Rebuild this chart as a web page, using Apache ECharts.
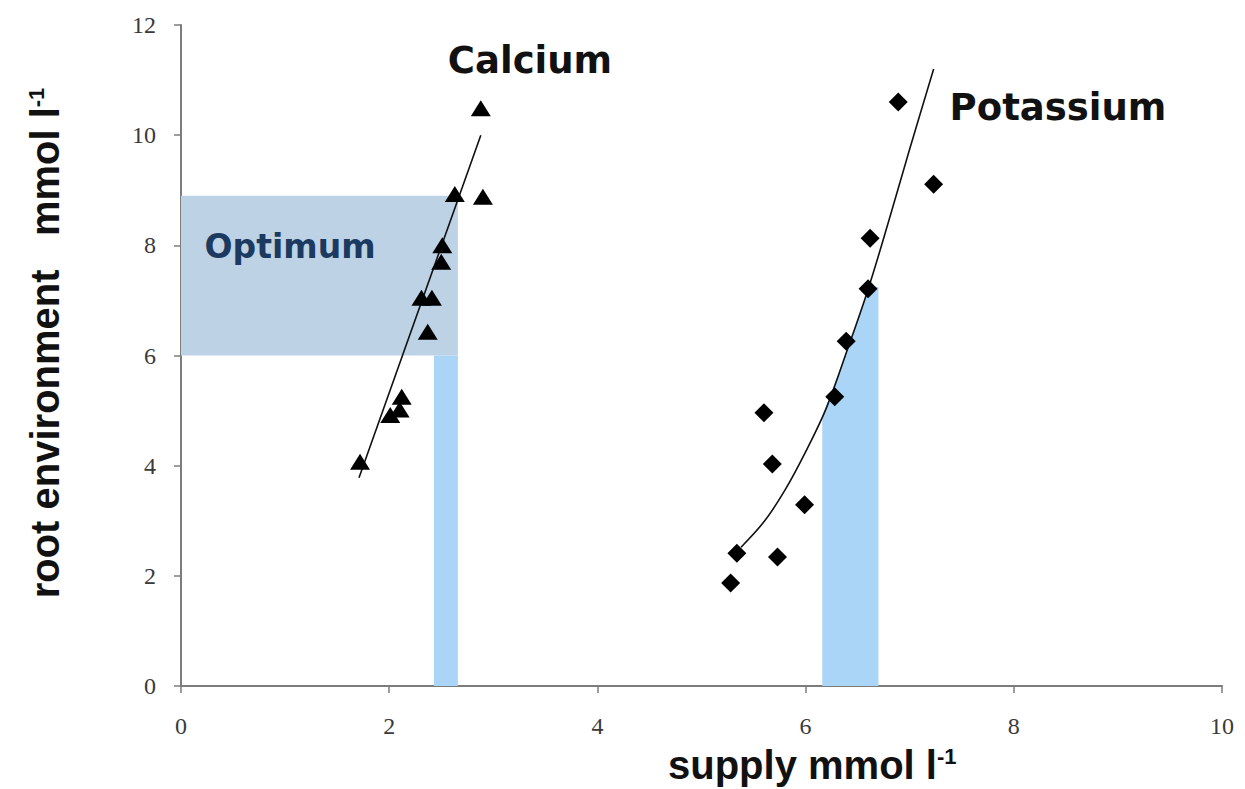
<!DOCTYPE html>
<html>
<head>
<meta charset="utf-8">
<title>Root environment vs supply</title>
<script src="https://cdn.jsdelivr.net/npm/echarts@6/dist/echarts.min.js"></script>
<style>
  html, body { margin: 0; padding: 0; background: #ffffff; }
  #chart { width: 1245px; height: 789px; }
</style>
</head>
<body>
<div id="chart"></div>
<script>
// Axis ticks
const xTicks = [0, 2, 4, 6, 8, 10];
const yTicks = [0, 2, 4, 6, 8, 10, 12];

// Calcium measurements (supply vs root environment, mmol/l)
const calciumSupply = [1.72, 2.01, 2.10, 2.12, 2.37, 2.31, 2.41, 2.50, 2.51, 2.63, 2.90, 2.88];
const calciumRoot   = [4.07, 4.92, 5.02, 5.25, 6.43, 7.05, 7.05, 7.70, 8.00, 8.93, 8.88, 10.49];

// Calcium linear fit end points
const calciumFitSupply = [1.71, 2.88];
const calciumFitRoot   = [3.78, 10.0];

// Potassium measurements
const potassiumSupply = [5.28, 5.34, 5.60, 5.68, 5.73, 5.99, 6.28, 6.39, 6.60, 6.62, 6.89, 7.23];
const potassiumRoot   = [1.87, 2.41, 4.96, 4.03, 2.34, 3.29, 5.25, 6.26, 7.21, 8.13, 10.60, 9.11];

// Potassium fitted curve
const potassiumFitSupply = [5.38, 5.60, 5.80, 6.00, 6.20, 6.40, 6.60, 6.80, 7.00, 7.23];
const potassiumFitRoot   = [2.52, 2.98, 3.55, 4.25, 5.05, 6.10, 7.20, 8.45, 9.75, 11.20];

// Optimum root-environment range and the supply windows that reach it
const optimumRoot = [6, 8.9];
const calciumOptimumSupply = [2.43, 2.66];
const potassiumOptimumSupply = [6.16, 6.40, 6.60, 6.70];
const potassiumOptimumRoot   = [4.90, 6.10, 7.20, 7.25];

const zip = (xs, ys) => xs.map((x, i) => [x, ys[i]]);

const chart = echarts.init(document.getElementById('chart'), null, { renderer: 'svg' });

const bandColor = '#bdd2e5';
const barColor = '#abd5f6';
const tickFont = { fontFamily: 'Liberation Serif', fontSize: 24, color: '#3a3a3a' };

chart.setOption({
  animation: false,
  backgroundColor: '#ffffff',
  grid: { left: 181, right: 23, top: 25, bottom: 103, containLabel: false },
  xAxis: {
    type: 'value',
    min: xTicks[0],
    max: xTicks[xTicks.length - 1],
    interval: xTicks[1] - xTicks[0],
    splitLine: { show: false },
    axisLine: { show: true, onZero: false, lineStyle: { color: '#7c7c7c', width: 2 } },
    axisTick: { show: true, length: 7, lineStyle: { color: '#7c7c7c', width: 1.5 } },
    axisLabel: Object.assign({ margin: 28 }, tickFont)
  },
  yAxis: {
    type: 'value',
    min: yTicks[0],
    max: yTicks[yTicks.length - 1],
    interval: yTicks[1] - yTicks[0],
    splitLine: { show: false },
    axisLine: { show: true, onZero: false, lineStyle: { color: '#7c7c7c', width: 2 } },
    axisTick: { show: true, length: 7, lineStyle: { color: '#7c7c7c', width: 1.5 } },
    axisLabel: Object.assign({ margin: 25 }, tickFont)
  },
  series: [
    {
      // Potassium supply window: area under the fitted curve
      name: 'Potassium optimum',
      type: 'line',
      z: 1,
      silent: true,
      symbol: 'none',
      lineStyle: { width: 0 },
      areaStyle: { color: barColor, opacity: 1 },
      data: zip(potassiumOptimumSupply, potassiumOptimumRoot),
      markArea: {
        silent: true,
        data: [
          [
            { coord: [0, optimumRoot[0]], itemStyle: { color: bandColor } },
            { coord: [calciumOptimumSupply[1], optimumRoot[1]] }
          ],
          [
            { coord: [calciumOptimumSupply[0], 0], itemStyle: { color: barColor } },
            { coord: [calciumOptimumSupply[1], optimumRoot[0]] }
          ]
        ]
      }
    },
    {
      name: 'Calcium fit',
      type: 'line',
      z: 3,
      symbol: 'none',
      lineStyle: { color: '#111', width: 1.6 },
      data: zip(calciumFitSupply, calciumFitRoot)
    },
    {
      name: 'Potassium fit',
      type: 'line',
      z: 3,
      symbol: 'none',
      smooth: 0.35,
      lineStyle: { color: '#111', width: 1.6 },
      data: zip(potassiumFitSupply, potassiumFitRoot)
    },
    {
      name: 'Calcium',
      type: 'scatter',
      z: 4,
      symbol: 'triangle',
      symbolSize: [20, 16],
      itemStyle: { color: '#000', opacity: 1 },
      data: zip(calciumSupply, calciumRoot)
    },
    {
      name: 'Potassium',
      type: 'scatter',
      z: 4,
      symbol: 'diamond',
      symbolSize: [19, 19],
      itemStyle: { color: '#000', opacity: 1 },
      data: zip(potassiumSupply, potassiumRoot)
    }
  ],
  graphic: [
    {
      type: 'text', x: 530, y: 60, z: 10,
      style: { text: 'Calcium', fontFamily: 'DejaVu Sans', fontWeight: 'bold', fontSize: 37,
               fill: '#111', align: 'center', verticalAlign: 'middle' }
    },
    {
      type: 'text', x: 1058, y: 107, z: 10,
      style: { text: 'Potassium', fontFamily: 'DejaVu Sans', fontWeight: 'bold', fontSize: 37,
               fill: '#111', align: 'center', verticalAlign: 'middle' }
    },
    {
      type: 'text', x: 290, y: 246, z: 10,
      style: { text: 'Optimum', fontFamily: 'DejaVu Sans', fontWeight: 'bold', fontSize: 33,
               fill: '#1c3a60', align: 'center', verticalAlign: 'middle' }
    },
    {
      type: 'text', x: 668, y: 765, z: 10,
      style: {
        text: '{a|supply mmol l}{s|-1}',
        align: 'left', verticalAlign: 'middle',
        rich: {
          a: { fontFamily: 'Liberation Sans', fontWeight: 'bold', fontSize: 40, fill: '#111' },
          s: { fontFamily: 'Liberation Sans', fontWeight: 'bold', fontSize: 22, fill: '#111', verticalAlign: 'top' }
        }
      }
    },
    {
      type: 'text', x: 45, y: 343, z: 10, rotation: Math.PI / 2,
      style: {
        text: '{a|root environment   mmol l}{s|-1}',
        align: 'center', verticalAlign: 'middle',
        rich: {
          a: { fontFamily: 'Liberation Sans', fontWeight: 'bold', fontSize: 40, fill: '#111' },
          s: { fontFamily: 'Liberation Sans', fontWeight: 'bold', fontSize: 22, fill: '#111', verticalAlign: 'top' }
        }
      }
    }
  ]
});
</script>
</body>
</html>
